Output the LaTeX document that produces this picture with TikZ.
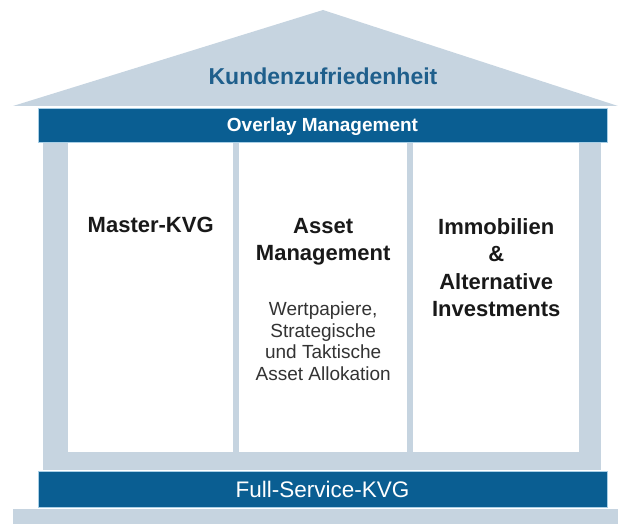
\documentclass[tikz,border=0pt]{standalone}
\usepackage{fontspec}
\setmainfont{Liberation Sans}
\usetikzlibrary{positioning}
\definecolor{roofgray}{HTML}{C6D4E0}
\definecolor{beamblue}{HTML}{0A5E92}
\definecolor{beamrim}{HTML}{A9CFE6}
\definecolor{titleblue}{HTML}{1F5F8C}

\begin{document}
\begin{tikzpicture}[
    x=1pt, y=-1pt,
    roof/.style={fill=roofgray, draw=none},
    beam/.style={fill=beamblue, draw=beamrim, line width=0.8pt, text=white, inner sep=0pt, minimum width=569, minimum height=34, text depth=0pt},
    column/.style={fill=white, draw=none, anchor=north west, minimum width=166, minimum height=309, inner sep=0pt},
    heading/.style={font=\bfseries\fontsize{22}{27.5}\selectfont, align=center, inner sep=0pt, text=black!90},
    detail/.style={font=\fontsize{19}{21.5}\selectfont, align=center, inner sep=0pt, text=black!80}
]
\useasboundingbox (0,0) rectangle (618,524);

% Roof
\fill[roof] (13,106) -- (323,10) -- (618,106) -- cycle;
\node[font=\bfseries\fontsize{23}{27}\selectfont, text=titleblue, inner sep=0pt, anchor=north, text depth=0pt] (title) at (323,68) {Kundenzufriedenheit};

% Pillars
\fill[roof] (43,140) rectangle (601,470);
\node[column, minimum width=165] (col1) at (68,143) {};
\node[column, minimum width=168] (col2) at (239,143) {};
\node[column, minimum width=166] (col3) at (413,143) {};

% Beams
\node[beam, font=\bfseries\fontsize{19}{22}\selectfont] (overlay) at (322.5,125) {Overlay Management};
\node[beam, minimum height=36, font=\fontsize{22.5}{26}\selectfont] (fullservice) at (322.5,489) {Full-Service-KVG};

% Base
\fill[roof] (13,509) rectangle (618,524);

% Column texts
\node[heading, below=74pt of col1.north] (master) {Master-KVG};
\node[heading, below=75pt of col2.north] (asset) {Asset\\Management};
\node[detail, below=36pt of asset] (wp) {Wertpapiere,\\Strategische\\und Taktische\\Asset Allokation};
\node[heading, below=75pt of col3.north] (immo) {Immobilien\\\&\\Alternative\\Investments};

\end{tikzpicture}
\end{document}
